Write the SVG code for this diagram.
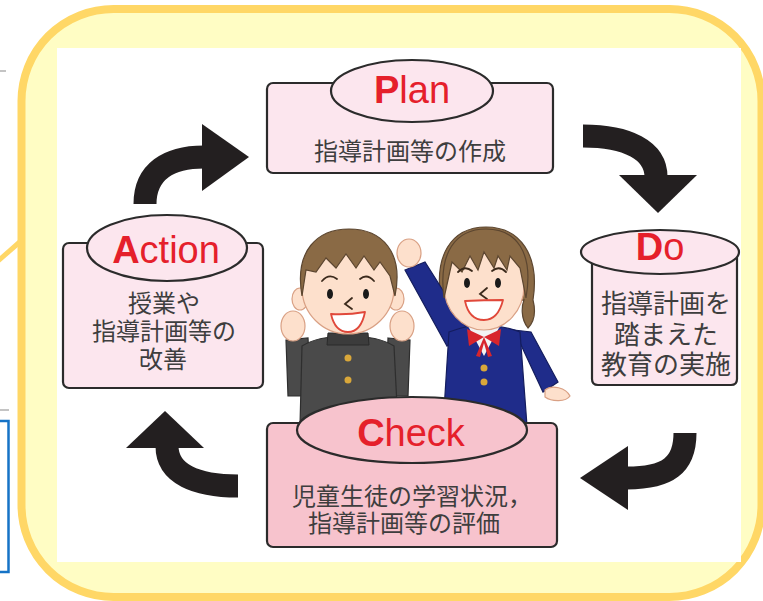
<svg xmlns="http://www.w3.org/2000/svg" width="763" height="601" viewBox="0 0 763 601">
  <style>
    .box { fill: #fce6ee; stroke: #2b2b2b; stroke-width: 2.2; }
    .box-check { fill: #f7c3cd; stroke: #2b2b2b; stroke-width: 2.2; }
    .title { font-family: "Liberation Sans", Arial, sans-serif; font-size: 38px; fill: #e5202b; text-anchor: middle; }
    .title .cap { font-weight: bold; }
    .body { font-family: "Noto Sans CJK JP", "Noto Sans", sans-serif; font-size: 24px; fill: #3e3e3e; text-anchor: middle; }
    .shaft { fill: none; stroke: #231f20; stroke-width: 23; stroke-linecap: butt; }
    .head { fill: #231f20; }
    .skin { fill: #fde0cc; stroke: #d9a084; stroke-width: 1.2; }
    .hair { fill: #8a6a45; stroke: #5c4630; stroke-width: 1.2; }
    .ink { fill: none; stroke: #3b2a1c; stroke-width: 1.8; stroke-linecap: round; }
    .mouth { fill: #ffffff; stroke: #e0483a; stroke-width: 1.8; stroke-linejoin: round; }
    .btn { fill: #d9a73a; }
  </style>

  <!-- neighbouring page fragments on the left edge -->
  <line x1="0" y1="71" x2="6" y2="71" stroke="#c4c4c4" stroke-width="2"/>
  <line x1="0" y1="410" x2="9" y2="410" stroke="#c4c4c4" stroke-width="2"/>
  <path d="M0,421 H8.5 V572 H0" fill="none" stroke="#1673c6" stroke-width="2.5"/>

  <!-- callout frame -->
  <line x1="-2" y1="261" x2="22" y2="240" stroke="#ffd766" stroke-width="5"/>
  <rect x="21.5" y="9" width="740" height="588" rx="92" fill="#fffdc4" stroke="#ffd766" stroke-width="8"/>
  <rect x="57" y="48" width="684" height="514" fill="#ffffff"/>

  <!-- cycle arrows -->
  <g id="connectors">
    <path class="shaft" d="M145,204 C145,172 168,157 204,157"/>
    <polygon class="head" points="202,124 249,157 202,191"/>
    <path class="shaft" d="M583,136 C627,136 656,150 656,177"/>
    <polygon class="head" points="619,175 697,175 658,213"/>
    <path class="shaft" d="M685,433 C685,465 668,478 627,478"/>
    <polygon class="head" points="628,446 580,478 628,510"/>
    <path class="shaft" d="M238,486 C196,486 167,474 167,446"/>
    <polygon class="head" points="126,448 165,411 204,448"/>
  </g>

  <!-- two students in the middle -->
  <g id="students">
    <!-- girl -->
    <g id="girl">
      <path class="hair" d="M442,305 C432,255 452,227 486,227 C520,227 540,255 533,300 C536,312 534,322 528,328 C520,318 522,305 524,300 Z"/>
      <path d="M405,270 L425,262 L468,330 L447,346 Z" fill="#1f2c8a" stroke="#141d5e" stroke-width="1.2"/>
      <ellipse class="skin" cx="409" cy="253" rx="12" ry="14"/>
      <path d="M514,330 L531,332 L558,382 L543,392 Z" fill="#1f2c8a" stroke="#141d5e" stroke-width="1.2"/>
      <path class="skin" d="M545,390 C552,384 566,388 570,396 C566,402 552,402 545,397 Z"/>
      <rect class="skin" x="474" y="318" width="20" height="16"/>
      <path d="M449,332 Q484,318 520,332 L527,426 L443,426 Z" fill="#1f2c8a" stroke="#141d5e" stroke-width="1.2"/>
      <polygon points="468,326 500,326 484,356" fill="#f2f2f2"/>
      <polygon points="484,337 467,329 469,346" fill="#d8252c"/>
      <polygon points="484,337 501,329 499,346" fill="#d8252c"/>
      <polygon points="484,337 476,356 480,357 484,343 488,357 492,356" fill="#d8252c"/>
      <circle class="btn" cx="484" cy="368" r="3.5"/>
      <circle class="btn" cx="484" cy="382" r="3.5"/>
      <ellipse class="skin" cx="484" cy="286" rx="40" ry="44"/>
      <path class="hair" d="M444,298 C438,252 456,229 486,229 C516,229 534,252 526,298 L520,268 L510,256 L507,270 L498,256 L494,268 L484,252 L478,270 L470,256 L462,272 L452,262 Z"/>
      <path class="ink" d="M458,272 Q465,265 472,271"/>
      <path class="ink" d="M492,271 Q499,265 506,272"/>
      <ellipse cx="467" cy="283" rx="3" ry="5" fill="#1a1a1a"/>
      <ellipse cx="498" cy="283" rx="3" ry="5" fill="#1a1a1a"/>
      <path class="ink" d="M487,288 L480,294 L487,299"/>
      <path class="mouth" d="M465,301 Q484,300 503,300 Q498,320 484,320 Q469,320 465,301 Z"/>
    </g>
    <!-- boy -->
    <g id="boy">
      <path d="M286,340 L308,338 L311,396 L288,396 Z" fill="#4a4a4a" stroke="#2e2e2e" stroke-width="1.2"/>
      <path d="M388,338 L410,340 L408,396 L386,396 Z" fill="#4a4a4a" stroke="#2e2e2e" stroke-width="1.2"/>
      <path d="M302,346 Q318,336 348,336 Q378,336 394,346 L398,426 L300,426 Z" fill="#4a4a4a" stroke="#2e2e2e" stroke-width="1.2"/>
      <rect class="skin" x="338" y="324" width="20" height="12"/>
      <path d="M328,333 L368,333 L369,345 L327,345 Z" fill="#3c3c3c" stroke="#2a2a2a" stroke-width="1"/>
      <circle class="btn" cx="348" cy="358" r="3.5"/>
      <circle class="btn" cx="348" cy="380" r="3.5"/>
      <ellipse class="skin" cx="293" cy="326" rx="12" ry="15"/>
      <ellipse class="skin" cx="402" cy="326" rx="12" ry="15"/>
      <ellipse class="skin" cx="300" cy="299" rx="8" ry="11"/>
      <ellipse class="skin" cx="396" cy="299" rx="8" ry="11"/>
      <ellipse class="skin" cx="348" cy="288" rx="46" ry="46"/>
      <path class="hair" d="M302,296 C294,250 318,229 349,229 C382,229 404,252 395,296 L390,276 L380,262 L374,270 L364,256 L356,268 L346,254 L336,268 L326,258 L316,272 L306,270 Z"/>
      <path class="ink" d="M322,281 Q329,273 337,279"/>
      <path class="ink" d="M360,279 Q367,273 374,281"/>
      <ellipse cx="330" cy="294" rx="3" ry="5" fill="#1a1a1a"/>
      <ellipse cx="366" cy="294" rx="3" ry="5" fill="#1a1a1a"/>
      <path class="ink" d="M352,298 L345,304 L352,309"/>
      <path class="mouth" d="M331,314 Q348,315 365,312 Q361,332 348,332 Q335,332 331,314 Z"/>
    </g>
  </g>

  <!-- Plan -->
  <g id="plan">
    <rect class="box" x="267" y="83" width="286" height="90" rx="6"/>
    <ellipse class="box" cx="412" cy="91" rx="81" ry="31"/>
    <text class="title" x="412" y="103"><tspan class="cap">P</tspan>lan</text>
    <text class="body" x="410" y="160">指導計画等の作成</text>
  </g>

  <!-- Do -->
  <g id="do">
    <path class="box" d="M592,252 V379 Q592,385 598,385 H731 Q737,385 737,379 V252 Z"/>
    <ellipse class="box" cx="660" cy="252" rx="79" ry="22"/>
    <text class="title" x="660" y="260"><tspan class="cap">D</tspan>o</text>
    <text class="body" style="font-size:26px"><tspan x="666" y="313">指導計画を</tspan><tspan x="666" y="344">踏まえた</tspan><tspan x="666" y="374">教育の実施</tspan></text>
  </g>

  <!-- Check -->
  <g id="check">
    <rect class="box-check" x="267" y="423" width="290" height="124" rx="6"/>
    <ellipse class="box-check" cx="412" cy="430" rx="115" ry="33"/>
    <text class="title" x="411" y="446"><tspan class="cap">C</tspan>heck</text>
    <text class="body"><tspan x="412" y="505">児童生徒の学習状況，</tspan><tspan x="404" y="532">指導計画等の評価</tspan></text>
  </g>

  <!-- Action -->
  <g id="action">
    <rect class="box" x="63" y="243" width="200" height="145" rx="6"/>
    <ellipse class="box" cx="167" cy="248" rx="80" ry="33"/>
    <text class="title" x="166" y="263"><tspan class="cap">A</tspan>ction</text>
    <text class="body"><tspan x="164" y="312">授業や</tspan><tspan x="164" y="340">指導計画等の</tspan><tspan x="163" y="368">改善</tspan></text>
  </g>
</svg>
